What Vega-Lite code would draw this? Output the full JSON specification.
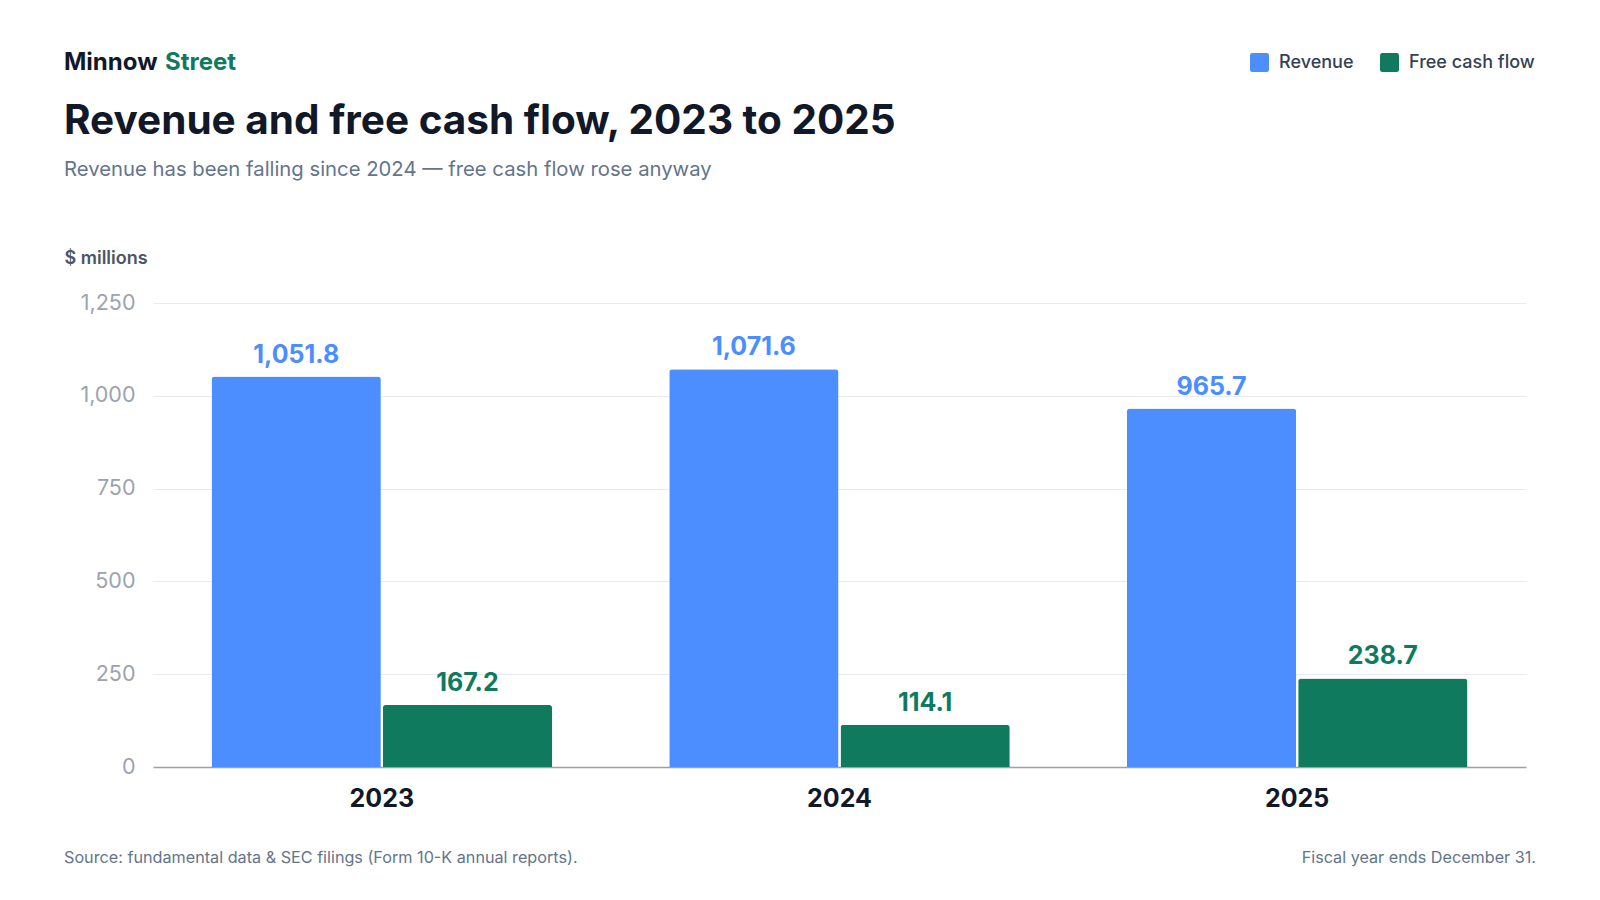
{
  "$schema": "https://vega.github.io/schema/vega-lite/v6.json",
  "autosize": {"type": "none"},
  "width": 1382,
  "height": 464,
  "padding": {"left": 144, "top": 303, "right": 74, "bottom": 133},
  "background": "white",
  "config": {
    "font": "Inter",
    "view": {"stroke": null}
  },
  "title": {
    "text": "Revenue and free cash flow, 2023 to 2025",
    "subtitle": "Revenue has been falling since 2024 — free cash flow rose anyway",
    "anchor": "start",
    "frame": "group",
    "dx": -80,
    "offset": 0,
    "dy": 129,
    "font": "Inter",
    "fontSize": 40.5,
    "fontWeight": 700,
    "color": "#111827",
    "subtitleFont": "Inter",
    "subtitleFontSize": 20.3,
    "subtitleColor": "#64748b",
    "subtitlePadding": 17
  },
  "datasets": {
    "financials": [
      {"year": "2023", "series": "Revenue", "value": 1051.8},
      {"year": "2023", "series": "Free cash flow", "value": 167.2},
      {"year": "2024", "series": "Revenue", "value": 1071.6},
      {"year": "2024", "series": "Free cash flow", "value": 114.1},
      {"year": "2025", "series": "Revenue", "value": 965.7},
      {"year": "2025", "series": "Free cash flow", "value": 238.7}
    ]
  },
  "data": {"name": "financials"},
  "encoding": {
    "x": {
      "field": "year",
      "type": "nominal",
      "title": null,
      "scale": {"range": [9, 1382], "paddingInner": 0.256, "paddingOuter": 0.128},
      "axis": {
        "labelAngle": 0,
        "labelFont": "Inter",
        "labelFontSize": 25,
        "labelFontWeight": 700,
        "labelColor": "#111827",
        "labelPadding": 19,
        "ticks": false,
        "grid": false,
        "domainColor": "#94a3b8",
        "domainWidth": 1.5
      }
    },
    "xOffset": {
      "field": "series",
      "type": "nominal",
      "sort": ["Revenue", "Free cash flow"],
      "scale": {"paddingInner": 0.0117}
    },
    "y": {
      "field": "value",
      "type": "quantitative",
      "scale": {"domain": [0, 1250], "nice": false},
      "axis": {
        "values": [0, 250, 500, 750, 1000, 1250],
        "format": ",.0f",
        "labelFont": "Inter",
        "labelFontSize": 21.5,
        "labelColor": "#9ca3af",
        "labelPadding": 9,
        "ticks": false,
        "domain": false,
        "gridColor": "#e8eaee",
        "gridWidth": 1,
        "title": "$ millions",
        "titleAngle": 0,
        "titleAlign": "left",
        "titleBaseline": "middle",
        "titleX": -80,
        "titleY": -45,
        "titleFont": "Inter",
        "titleFontSize": 18,
        "titleFontWeight": 600,
        "titleColor": "#4b5563"
      }
    },
    "color": {
      "field": "series",
      "type": "nominal",
      "scale": {"domain": ["Revenue", "Free cash flow"], "range": ["#4c8dff", "#0f7a5e"]},
      "legend": {
        "title": null,
        "orient": "none",
        "direction": "horizontal",
        "legendX": 1106,
        "legendY": -250,
        "symbolType": "M-0.75,-1L0.75,-1Q1,-1 1,-0.75L1,0.75Q1,1 0.75,1L-0.75,1Q-1,1 -1,0.75L-1,-0.75Q-1,-1 -0.75,-1Z",
        "symbolSize": 361,
        "symbolStrokeWidth": 0,
        "symbolOpacity": 1,
        "labelFont": "Inter",
        "labelFontSize": 18,
        "labelFontWeight": 500,
        "labelColor": "#334155",
        "labelOffset": 10,
        "columnPadding": 26
      }
    }
  },
  "layer": [
    {
      "mark": {"type": "bar", "cornerRadiusTopLeft": 3, "cornerRadiusTopRight": 3}
    },
    {
      "mark": {"type": "text", "baseline": "alphabetic", "dy": -14, "font": "Inter", "fontSize": 25, "fontWeight": 700},
      "encoding": {
        "text": {"field": "value", "type": "quantitative", "format": ",.1f"}
      }
    },
    {
      "data": {"values": [{"label": "Minnow"}]},
      "mark": {"type": "text", "align": "left", "baseline": "middle", "font": "Inter", "fontSize": 24, "fontWeight": 700, "letterSpacing": -0.3, "color": "#111827"},
      "encoding": {
        "x": {"value": -80},
        "y": {"value": -240},
        "text": {"field": "label"},
        "xOffset": null,
        "color": null
      }
    },
    {
      "data": {"values": [{"label": "Street"}]},
      "mark": {"type": "text", "align": "left", "baseline": "middle", "font": "Inter", "fontSize": 24, "fontWeight": 700, "letterSpacing": -0.3, "color": "#0f7a5e"},
      "encoding": {
        "x": {"value": 21},
        "y": {"value": -240},
        "text": {"field": "label"},
        "xOffset": null,
        "color": null
      }
    },
    {
      "data": {"values": [{"label": "Source: fundamental data & SEC filings (Form 10-K annual reports)."}]},
      "mark": {"type": "text", "align": "left", "baseline": "middle", "font": "Inter", "fontSize": 16.2, "color": "#64748b"},
      "encoding": {
        "x": {"value": -80},
        "y": {"value": 555},
        "text": {"field": "label"},
        "xOffset": null,
        "color": null
      }
    },
    {
      "data": {"values": [{"label": "Fiscal year ends December 31."}]},
      "mark": {"type": "text", "align": "right", "baseline": "middle", "font": "Inter", "fontSize": 16.2, "color": "#64748b"},
      "encoding": {
        "x": {"value": 1392},
        "y": {"value": 555},
        "text": {"field": "label"},
        "xOffset": null,
        "color": null
      }
    }
  ]
}
